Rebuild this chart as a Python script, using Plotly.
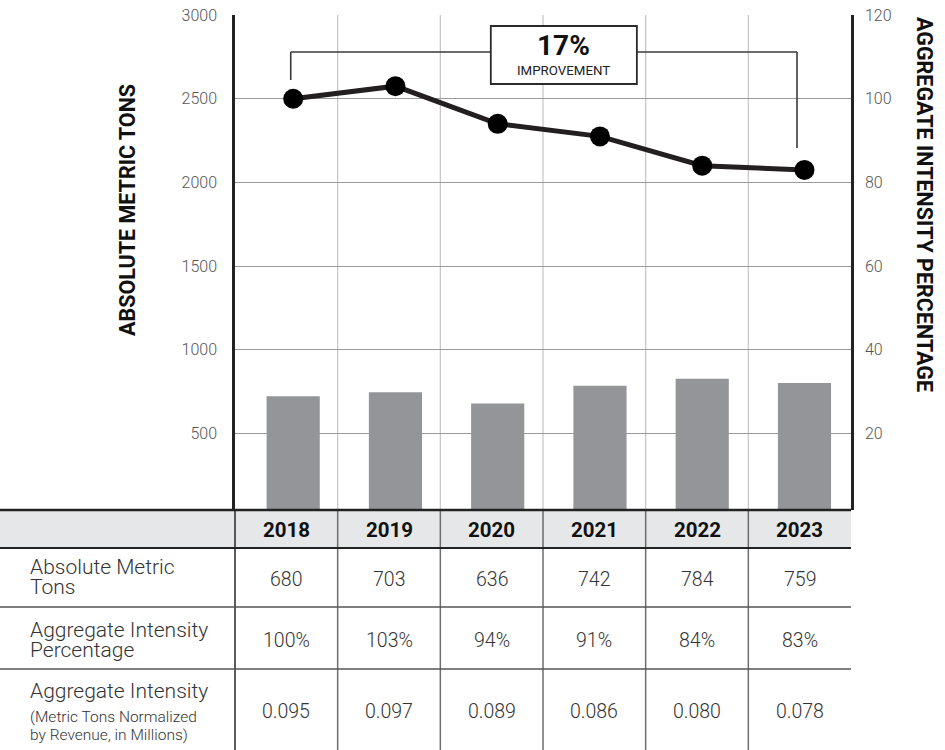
import plotly.graph_objects as go

# ---------------- data ----------------
years = ["2018", "2019", "2020", "2021", "2022", "2023"]
absolute_tons = [680, 703, 636, 742, 784, 759]
intensity_pct = [100, 103, 94, 91, 84, 83]
intensity_norm = ["0.095", "0.097", "0.089", "0.086", "0.080", "0.078"]
left_ticks = [500, 1000, 1500, 2000, 2500, 3000]
right_ticks = [20, 40, 60, 80, 100, 120]
improvement_label = "17%"
improvement_sub = "IMPROVEMENT"

# ---------------- style / layout constants ----------------
FONT = "Roboto"
LEFT_MIN, LEFT_MAX = 43.6, 3000
RIGHT_MIN, RIGHT_MAX = 1.744, 120
X_MIN, X_MAX = -0.569, 5.455

W, H = 945, 750
ML, MR, MT, MB = 235, 94, 15, 240
PW = W - ML - MR
PH = H - MT - MB


def px(x):
    return (x - ML) / PW


def py(y):
    return (H - MB - y) / PH


fig = go.Figure()

fig.add_trace(go.Bar(
    x=years, y=absolute_tons, base=LEFT_MIN,
    marker=dict(color="#939598", line=dict(width=0)),
    width=0.52, yaxis="y", hoverinfo="skip", showlegend=False,
))

fig.add_trace(go.Scatter(
    x=years, y=intensity_pct, yaxis="y2", mode="lines+markers",
    line=dict(color="#231f20", width=5),
    marker=dict(color="#000000", size=20),
    hoverinfo="skip", showlegend=False,
))

shapes = []
# vertical gridlines in chart
for k in range(1, 6):
    shapes.append(dict(type="line", xref="paper", yref="paper", x0=k / 6, x1=k / 6,
                       y0=0, y1=1, line=dict(color="#c4c4c4", width=1.2), layer="below"))

# table header background
shapes.append(dict(type="rect", xref="paper", yref="paper", x0=px(0), x1=1,
                   y0=py(548), y1=0, fillcolor="#e6e7e8", line=dict(width=0), layer="below"))
# table vertical lines
shapes.append(dict(type="line", xref="paper", yref="paper", x0=0, x1=0,
                   y0=py(750), y1=0, line=dict(color="#333333", width=1.6)))
for k in range(1, 6):
    shapes.append(dict(type="line", xref="paper", yref="paper", x0=k / 6, x1=k / 6,
                       y0=py(750), y1=0, line=dict(color="#6d6d6d", width=1.5)))
# table horizontal lines
shapes.append(dict(type="line", xref="paper", yref="paper", x0=px(0), x1=1,
                   y0=0, y1=0, line=dict(color="#222222", width=2.5)))
shapes.append(dict(type="line", xref="paper", yref="paper", x0=px(0), x1=1,
                   y0=py(548), y1=py(548), line=dict(color="#222222", width=2.2)))
for yy in (607, 669):
    shapes.append(dict(type="line", xref="paper", yref="paper", x0=px(0), x1=1,
                       y0=py(yy), y1=py(yy), line=dict(color="#555555", width=1.5)))

# improvement bracket
BR_L, BR_R = -0.024, 4.927
BOX_L, BOX_R = 1.9325, 3.361
BR_Y = py(52)
bcol = dict(color="#3a3a3a", width=1.6)
shapes.append(dict(type="line", xref="x", yref="paper", x0=BR_L, x1=BR_L, y0=py(80), y1=BR_Y, line=bcol))
shapes.append(dict(type="line", xref="x", yref="paper", x0=BR_L, x1=BOX_L, y0=BR_Y, y1=BR_Y, line=bcol))
shapes.append(dict(type="line", xref="x", yref="paper", x0=BOX_R, x1=BR_R, y0=BR_Y, y1=BR_Y, line=bcol))
shapes.append(dict(type="line", xref="x", yref="paper", x0=BR_R, x1=BR_R, y0=BR_Y, y1=py(148), line=bcol))
shapes.append(dict(type="rect", xref="x", yref="paper", x0=BOX_L, x1=BOX_R, y0=py(84), y1=py(26),
                   fillcolor="white", line=dict(color="#2a2a2a", width=1.8)))

ann = []
BOX_C = (BOX_L + BOX_R) / 2
ann.append(dict(xref="x", yref="paper", x=BOX_C, y=py(46), text="<b>%s</b>" % improvement_label,
                showarrow=False, font=dict(family=FONT, size=28, color="#111111"),
                xanchor="center", yanchor="middle"))
ann.append(dict(xref="x", yref="paper", x=BOX_C, y=py(71), text=improvement_sub,
                showarrow=False, font=dict(family=FONT, size=13.3, color="#222222"),
                xanchor="center", yanchor="middle"))

# axis titles
ann.append(dict(xref="paper", yref="paper", x=px(127), y=py(210), text="<b>ABSOLUTE METRIC TONS</b>",
                textangle=-90, showarrow=False, font=dict(family=FONT, size=21.5, color="#111111"),
                xanchor="center", yanchor="middle"))
ann.append(dict(xref="paper", yref="paper", x=px(925), y=py(204),
                text="<b>AGGREGATE INTENSITY PERCENTAGE</b>",
                textangle=90, showarrow=False, font=dict(family=FONT, size=21.5, color="#111111"),
                xanchor="center", yanchor="middle"))

# table content
for i, yr in enumerate(years):
    cx = (i + 0.5) / 6
    ann.append(dict(xref="paper", yref="paper", x=cx, y=py(530), text="<b>%s</b>" % yr,
                    showarrow=False, font=dict(family=FONT, size=20.5, color="#111111"),
                    xanchor="center", yanchor="middle"))
    ann.append(dict(xref="paper", yref="paper", x=cx, y=py(579), text=str(absolute_tons[i]),
                    showarrow=False, font=dict(family=FONT, size=19.5, color="#333333", weight=300),
                    xanchor="center", yanchor="middle"))
    ann.append(dict(xref="paper", yref="paper", x=cx, y=py(640), text="%d%%" % intensity_pct[i],
                    showarrow=False, font=dict(family=FONT, size=19.5, color="#333333", weight=300),
                    xanchor="center", yanchor="middle"))
    ann.append(dict(xref="paper", yref="paper", x=cx, y=py(711), text=intensity_norm[i],
                    showarrow=False, font=dict(family=FONT, size=19.5, color="#333333", weight=300),
                    xanchor="center", yanchor="middle"))

row_lines = [
    ("Absolute Metric", 567, 21), ("Tons", 587, 21),
    ("Aggregate Intensity", 630, 21), ("Percentage", 650, 21),
    ("Aggregate Intensity", 691, 21),
    ("(Metric Tons Normalized", 717, 15.5), ("by Revenue, in Millions)", 735, 15.5),
]
for txt, yy, fs in row_lines:
    ann.append(dict(xref="paper", yref="paper", x=px(28), y=py(yy), text=txt,
                    showarrow=False, font=dict(family=FONT, size=fs, color="#333333", weight=300),
                    xanchor="left", yanchor="middle"))

fig.update_layout(
    width=W, height=H,
    margin=dict(l=ML, r=MR, t=MT, b=MB, pad=0, autoexpand=False),
    paper_bgcolor="white", plot_bgcolor="white",
    bargap=0.48,
    xaxis=dict(type="category", range=[X_MIN, X_MAX], showgrid=False, showticklabels=False,
               zeroline=False, showline=False, ticks="", automargin=False),
    yaxis=dict(range=[LEFT_MIN, LEFT_MAX], tickvals=left_ticks, showgrid=True,
               gridcolor="#9a9a9a", gridwidth=1, zeroline=False, automargin=False,
               showline=True, linecolor="#222222", linewidth=2.5, ticks="",
               ticklabelstandoff=12,
               tickfont=dict(family=FONT, size=16, color="#555555", weight=300)),
    yaxis2=dict(range=[RIGHT_MIN, RIGHT_MAX], tickvals=right_ticks, overlaying="y", side="right",
                showgrid=False, zeroline=False, automargin=False,
                showline=True, linecolor="#222222", linewidth=2.5, ticks="",
                ticklabelstandoff=8,
                tickfont=dict(family=FONT, size=16, color="#555555", weight=300)),
    shapes=shapes, annotations=ann,
    showlegend=False,
)

fig.write_html("out.html")
